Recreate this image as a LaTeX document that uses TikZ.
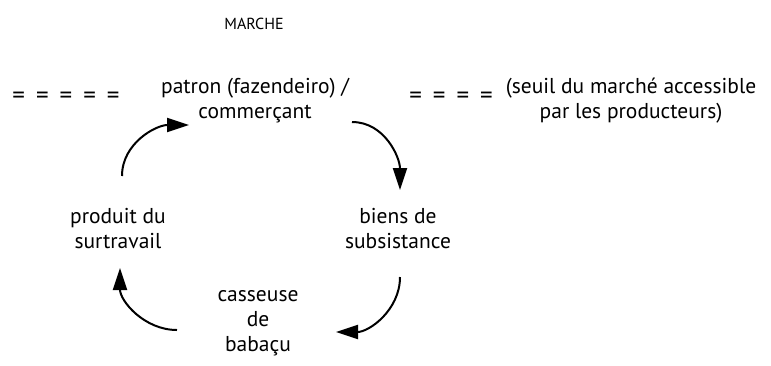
\documentclass[tikz,border=0pt]{standalone}
\usepackage{fontspec}
\setmainfont{PT Sans}
\usetikzlibrary{arrows.meta}
\newcommand{\eqsep}{\hspace{11pt}}
\begin{document}
\begin{tikzpicture}[x=1pt,y=-1pt,
  lbl/.style={align=center,font=\fontsize{21.5}{25}\selectfont,inner sep=0pt},
  eqs/.style={font=\fontsize{25}{25}\selectfont,inner sep=0pt},
  cyc/.style={line width=2pt,-{Triangle[length=22pt,width=14pt]}}]
\useasboundingbox (0,0) rectangle (771,365);
\node[font=\fontsize{16}{18}\selectfont] (marche) at (254,24) {MARCHE};
\node[eqs] (eqL) at (66,98) {=\eqsep=\eqsep=\eqsep=\eqsep=};
\node[lbl] (patron) at (255,101) {patron (fazendeiro) /\\commerçant};
\node[eqs] (eqR) at (451,98) {=\eqsep=\eqsep=\eqsep=};
\node[lbl] (seuil) at (631,101) {(seuil du marché accessible\\par les producteurs)};
\node[lbl] (produit) at (118,229) {produit du\\surtravail};
\node[lbl] (biens) at (398,229) {biens de\\subsistance};
\node[lbl] (casseuse) at (258,323) {casseuse\\de\\babaçu};
\coordinate (a1) at (122,176);
\coordinate (a2) at (189,125);
\coordinate (b1) at (352,122);
\coordinate (b2) at (400,190);
\coordinate (c1) at (400,277);
\coordinate (c2) at (336,332);
\coordinate (d1) at (177,330);
\coordinate (d2) at (120,268);
\draw[cyc] (a1) to[out=90,in=180] (a2);
\draw[cyc] (b1) to[out=0,in=90] (b2);
\draw[cyc] (c1) to[out=-90,in=0] (c2);
\draw[cyc] (d1) to[out=180,in=-90] (d2);
\end{tikzpicture}
\end{document}
